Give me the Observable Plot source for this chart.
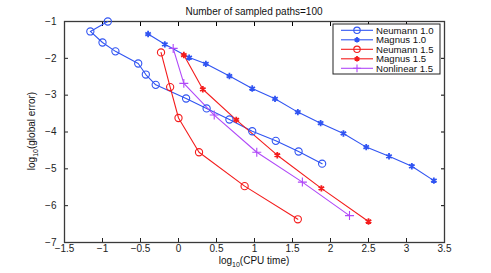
<!DOCTYPE html>
<html><head><meta charset="utf-8">
<script src="https://cdn.jsdelivr.net/npm/d3@7"></script>
<script src="https://cdn.jsdelivr.net/npm/@observablehq/plot@0.6"></script>
<style>
body{margin:0;background:#fff;}
#wrap{position:relative;width:491px;height:273px;}
svg{font-family:"Liberation Sans",Arial,Helvetica,sans-serif;}
</style>
</head><body><div id="wrap"></div>
<script>
const title = "Number of sampled paths=100";
const xLabelMain = "log", xLabelSub = "10", xLabelRest = "(CPU time)";
const yLabelMain = "log", yLabelSub = "10", yLabelRest = "(global error)";
const seriesNames = ["Neumann 1.0", "Magnus 1.0", "Neumann 1.5", "Magnus 1.5", "Nonlinear 1.5"];
const seriesColors = ["#3054f2", "#3054f2", "#f41c1c", "#f41c1c", "#b048f8"];
const seriesSymbols = ["circle", "asterisk", "circle", "asterisk", "plus"];
const xTicks = [-1.5, -1, -0.5, 0, 0.5, 1, 1.5, 2, 2.5, 3, 3.5];
const yTicks = [-7, -6, -5, -4, -3, -2, -1];

const neumann10X = [-0.93, -1.16, -1.00, -0.83, -0.53, -0.43, -0.30, 0.10, 0.37, 0.67, 0.97, 1.28, 1.58, 1.89];
const neumann10Y = [-1.00, -1.27, -1.57, -1.81, -2.14, -2.44, -2.72, -3.09, -3.36, -3.66, -3.98, -4.24, -4.53, -4.86];
const magnus10X = [-0.40, -0.18, 0.14, 0.36, 0.67, 0.97, 1.27, 1.57, 1.87, 2.17, 2.47, 2.77, 3.07, 3.36];
const magnus10Y = [-1.34, -1.62, -1.98, -2.15, -2.48, -2.82, -3.10, -3.46, -3.76, -4.04, -4.41, -4.66, -4.93, -5.32];
const neumann15X = [-0.23, -0.11, 0.00, 0.27, 0.87, 1.57];
const neumann15Y = [-1.84, -2.78, -3.62, -4.55, -5.47, -6.37];
const magnus15X = [0.07, 0.32, 0.76, 1.30, 1.88, 2.50];
const magnus15Y = [-1.91, -2.84, -3.67, -4.63, -5.53, -6.43];
const nonlinear15X = [-0.07, 0.07, 0.47, 1.03, 1.63, 2.25];
const nonlinear15Y = [-1.73, -2.68, -3.54, -4.55, -5.36, -6.27];

const seriesX = [neumann10X, magnus10X, neumann15X, magnus15X, nonlinear15X];
const seriesY = [neumann10Y, magnus10Y, neumann15Y, magnus15Y, nonlinear15Y];
const rows = seriesNames.flatMap((s, i) => seriesX[i].map((x, j) => ({series: s, x, y: seriesY[i][j]})));

const fs = 10;
const chart = Plot.plot({
  width: 491, height: 273,
  marginLeft: 64, marginRight: 47, marginTop: 21, marginBottom: 31,
  style: {fontFamily: '"Liberation Sans",Arial,sans-serif', fontSize: fs + "px", background: "#fff", overflow: "visible"},
  x: {domain: [-1.5, 3.5]},
  y: {domain: [-7, -1]},
  color: {domain: seriesNames, range: seriesColors},
  marks: [
    Plot.axisX(xTicks, {anchor: "bottom", tickSize: -4, tickPadding: 6, label: null, fontSize: fs, color: "#222", tickFormat: d => String(d).replace("-", "\u2212")}),
    Plot.axisX(xTicks, {anchor: "top", tickSize: -4, label: null, tickFormat: () => ""}),
    Plot.axisY(yTicks, {anchor: "left", tickSize: -4, tickPadding: 12, label: null, fontSize: fs, color: "#222", tickFormat: d => String(d).replace("-", "\u2212")}),
    Plot.axisY(yTicks, {anchor: "right", tickSize: -4, label: null, tickFormat: () => ""}),
    Plot.frame({stroke: "#3a3a3a", strokeWidth: 1.3}),
    Plot.line(rows, {x: "x", y: "y", z: "series", stroke: "series", strokeWidth: 1.1}),
    ...seriesNames.map((s, i) => Plot.dot(rows.filter(d => d.series === s), {
      x: "x", y: "y", stroke: seriesColors[i], fill: "none",
      symbol: seriesSymbols[i], r: seriesSymbols[i] === "circle" ? 3.6 : 3, strokeWidth: seriesSymbols[i] === "asterisk" ? 1.8 : 1.1
    }))
  ]
});
document.getElementById("wrap").appendChild(chart);

const svg = d3.select(chart);
// title
svg.append("text").attr("x", 254).attr("y", 15).attr("text-anchor", "middle")
  .attr("font-size", fs).attr("fill", "#111").text(title);
// x label
const xl = svg.append("text").attr("x", 254).attr("y", 264).attr("text-anchor", "middle")
  .attr("font-size", fs).attr("fill", "#111");
xl.append("tspan").text(xLabelMain);
xl.append("tspan").attr("font-size", 7).attr("dy", 3).text(xLabelSub);
xl.append("tspan").attr("dy", -3).text(xLabelRest);
// y label
const yl = svg.append("text").attr("transform", "translate(35,131) rotate(-90)").attr("text-anchor", "middle")
  .attr("font-size", fs).attr("fill", "#111");
yl.append("tspan").text(yLabelMain);
yl.append("tspan").attr("font-size", 7).attr("dy", 3).text(yLabelSub);
yl.append("tspan").attr("dy", -3).text(yLabelRest);

// legend
const lg = svg.append("g").attr("transform", "translate(333,24)");
lg.append("rect").attr("width", 107).attr("height", 50).attr("fill", "#fff").attr("stroke", "#222").attr("stroke-width", 1);
seriesNames.forEach((s, i) => {
  const yy = 6.3 + i * 9.5;
  lg.append("line").attr("x1", 8).attr("x2", 40).attr("y1", yy).attr("y2", yy)
    .attr("stroke", seriesColors[i]).attr("stroke-width", 1.1);
  const symType = {circle: d3.symbolCircle, asterisk: d3.symbolAsterisk, plus: d3.symbolPlus}[seriesSymbols[i]];
  const r = seriesSymbols[i] === "circle" ? 3.2 : 2.6;
  lg.append("path").attr("d", d3.symbol(symType, Math.PI * r * r)())
    .attr("transform", `translate(24,${yy})`).attr("fill", "none").attr("stroke", seriesColors[i])
    .attr("stroke-width", seriesSymbols[i] === "asterisk" ? 1.8 : 1.1);
  lg.append("text").attr("x", 43).attr("y", yy).attr("dy", "0.35em").attr("text-anchor", "start")
    .attr("font-size", 9.6).attr("fill", "#111").text(s);
});
</script>
</body></html>
